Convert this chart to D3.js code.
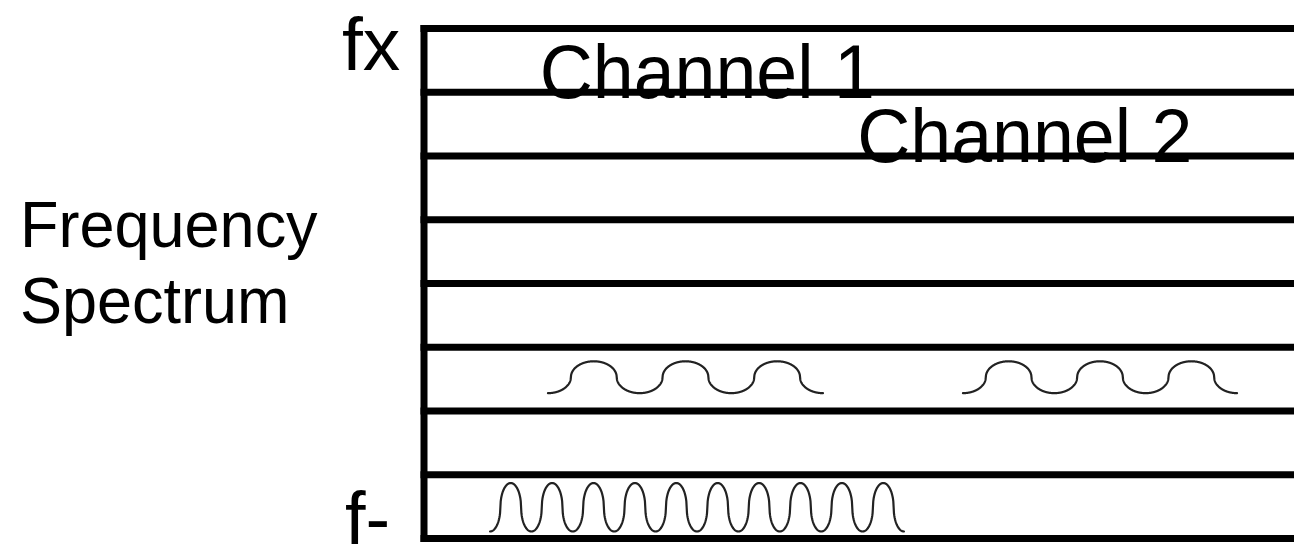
<!DOCTYPE html>
<html>
<head>
<meta charset="utf-8">
<script src="https://cdn.jsdelivr.net/npm/d3@7"></script>
<style>
  html, body { margin: 0; padding: 0; background: #fff; }
  svg { display: block; }
  text { font-family: "Liberation Sans", Arial, sans-serif; fill: #000; }
</style>
</head>
<body>
<svg id="chart" width="1294" height="544"></svg>
<script>
// ---- data ----
// Frequency band boundaries (index 0 = f-, index 8 = fx)
const bandLevels = [0, 1, 2, 3, 4, 5, 6, 7, 8];
const axisLabels = ["f-", "fx"];
const yTitle = ["Frequency", "Spectrum"];
const channelNames = ["Channel 1", "Channel 2"];
const channelBand = [7, 6];          // band line each channel label sits on
const channelStart = [13.3, 49.8];   // time position of label start
// Signals: start/end time, number of cycles, band (lower line index)
const signalStart = [14.25, 61.95, 7.59];
const signalEnd = [45.86, 93.45, 55.17];
const signalCycles = [3, 3, 10];
const signalBand = [2, 2, 0];
const signalLow = [0.28, 0.28, 0.11];   // fraction of band height
const signalHigh = [0.78, 0.78, 0.87];

// ---- scales ----
const svg = d3.select("#chart");
const x = d3.scaleLinear().domain([0, 100]).range([424, 1294]);
const y = d3.scaleLinear().domain([0, 8]).range([538.5, 28.5]);

// horizontal band lines
svg.append("g").selectAll("line").data(bandLevels).join("line")
  .attr("x1", x(0) - 3.5).attr("x2", x(100))
  .attr("y1", d => y(d)).attr("y2", d => y(d))
  .attr("stroke", "#000").attr("stroke-width", 7);

// vertical axis line
svg.append("line")
  .attr("x1", x(0)).attr("x2", x(0))
  .attr("y1", y(8) - 3.5).attr("y2", y(0) + 3.5)
  .attr("stroke", "#000").attr("stroke-width", 7);

// signals (rounded "semi-ellipse" wave shape)
const line = d3.line().x(d => d[0]).y(d => d[1]);
signalStart.forEach((s, i) => {
  const e = signalEnd[i], n = signalCycles[i];
  const yLow = y(signalBand[i] + signalLow[i]);
  const yHigh = y(signalBand[i] + signalHigh[i]);
  const pts = [];
  const N = 1200;
  for (let k = 0; k <= N; k++) {
    const t = s + (e - s) * k / N;
    const ph = (t - s) / (e - s) * n * 2;      // in half-cycles
    const q = ph - 0.5;
    const kk = Math.floor(q);
    const u = q - kk;
    const sign = (((kk % 2) + 2) % 2 === 0) ? 1 : -1;
    let f = sign * Math.sqrt(Math.max(0, 4 * u * (1 - u)));
    const v = (f + 1) / 2;
    pts.push([x(t), yLow + (yHigh - yLow) * v]);
  }
  svg.append("path").attr("d", line(pts))
    .attr("fill", "none").attr("stroke", "#222").attr("stroke-width", 2.2)
    .attr("stroke-linejoin", "round").attr("stroke-linecap", "round");
});

// channel labels
channelNames.forEach((name, i) => {
  svg.append("text")
    .attr("transform", `translate(${x(channelStart[i])},${y(channelBand[i]) + 6}) scale(1,1.03)`)
    .attr("font-size", 73.5)
    .text(name);
});

// axis end labels
svg.append("text").attr("x", 342).attr("y", 70).attr("font-size", 75).text(axisLabels[1]);
svg.append("text").attr("x", 345).attr("y", 544).attr("font-size", 74).text(axisLabels[0]);

// y title
yTitle.forEach((t, i) => {
  svg.append("text")
    .attr("transform", `translate(20,${247 + i * 76}) scale(1,1.04)`)
    .attr("font-size", 63)
    .text(t);
});
</script>
</body>
</html>
